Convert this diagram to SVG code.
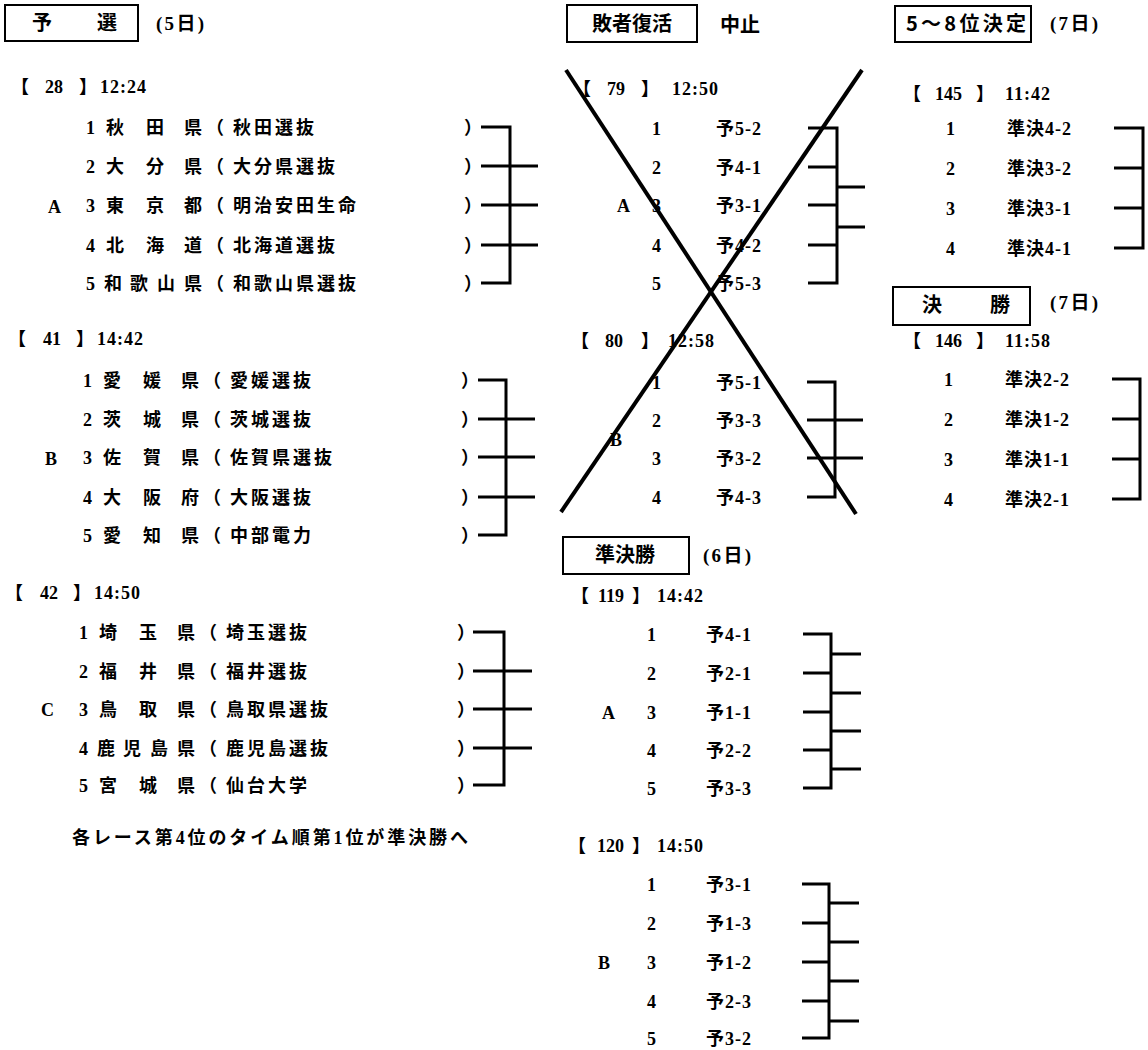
<svg xmlns="http://www.w3.org/2000/svg" width="1148" height="1050" viewBox="0 0 1148 1050">
<style>
.t{font-family:"Liberation Serif","Noto Sans CJK JP",serif;font-weight:bold;font-size:18px;fill:#000}
.j{font-family:"Noto Sans CJK JP",sans-serif;font-weight:bold;font-size:18px;fill:#000}
.h{font-family:"Noto Sans CJK JP",sans-serif;font-weight:bold;font-size:20px;fill:#000}
.d{font-family:"Liberation Serif","Noto Sans CJK JP",serif;font-weight:bold;font-size:19px;fill:#000}
.n{letter-spacing:3px}
.c{letter-spacing:1px}
.box{fill:none;stroke:#000;stroke-width:2}
.ln{stroke:#000;stroke-width:3;fill:none}
.x{stroke:#000;stroke-width:4;fill:none}
</style>
<rect width="1148" height="1050" fill="#fff"/>

<!-- Headers -->
<g id="hdr-yosen">
<rect class="box" x="5" y="5" width="133" height="36"/>
<text class="h" x="32 97" y="30">予選</text>
<text class="d" x="156" y="30" textLength="48" lengthAdjust="spacing">(5日)</text>
</g>
<g id="hdr-haisha">
<rect class="box" x="567" y="5" width="130" height="37"/>
<text class="h" x="632" y="31" text-anchor="middle">敗者復活</text>
<text class="h" x="720" y="32">中止</text>
</g>
<g id="hdr-58">
<rect class="box" x="895" y="6" width="136" height="36"/>
<text class="h" x="906" y="31" textLength="120" lengthAdjust="spacing">5～8位決定</text>
<text class="d" x="1050" y="30" textLength="48" lengthAdjust="spacing">(7日)</text>
</g>
<g id="hdr-junkessho">
<rect class="box" x="563" y="537" width="126" height="37"/>
<text class="h" x="625" y="562" text-anchor="middle">準決勝</text>
<text class="d" x="703" y="562" textLength="48" lengthAdjust="spacing">(6日)</text>
</g>
<g id="hdr-kessho">
<rect class="box" x="893" y="287" width="137" height="38"/>
<text class="h" x="922 990" y="312">決勝</text>
<text class="d" x="1050" y="309" textLength="48" lengthAdjust="spacing">(7日)</text>
</g>

<!-- Race 28 -->
<g id="race28">
<text class="t" x="11" y="93">【</text><text class="t" x="45" y="93">28</text><text class="t" x="79" y="93">】</text><text class="t c" x="100" y="93">12:24</text>
<text class="t" x="48" y="213" font-size="20">A</text>
<text class="t" x="86" y="134">1</text><text class="j" x="106 146 184" y="134">秋田県</text><text class="j" x="206" y="134">（</text><text class="j n" x="233" y="134">秋田選抜</text><text class="j" x="464" y="134">）</text>
<text class="t" x="86" y="173">2</text><text class="j" x="106 146 184" y="173">大分県</text><text class="j" x="206" y="173">（</text><text class="j n" x="233" y="173">大分県選抜</text><text class="j" x="464" y="173">）</text>
<text class="t" x="86" y="212">3</text><text class="j" x="106 146 184" y="212">東京都</text><text class="j" x="206" y="212">（</text><text class="j n" x="233" y="212">明治安田生命</text><text class="j" x="464" y="212">）</text>
<text class="t" x="86" y="252">4</text><text class="j" x="106 146 184" y="252">北海道</text><text class="j" x="206" y="252">（</text><text class="j n" x="233" y="252">北海道選抜</text><text class="j" x="464" y="252">）</text>
<text class="t" x="86" y="290">5</text><text class="j" x="104 130 157 184" y="290">和歌山県</text><text class="j" x="206" y="290">（</text><text class="j n" x="233" y="290">和歌山県選抜</text><text class="j" x="464" y="290">）</text>
</g>

<!-- Race 41 -->
<g id="race41">
<text class="t" x="8" y="345">【</text><text class="t" x="43" y="345">41</text><text class="t" x="76" y="345">】</text><text class="t c" x="97" y="345">14:42</text>
<text class="t" x="45" y="465" font-size="20">B</text>
<text class="t" x="83" y="387">1</text><text class="j" x="103 143 181" y="387">愛媛県</text><text class="j" x="203" y="387">（</text><text class="j n" x="230" y="387">愛媛選抜</text><text class="j" x="461" y="387">）</text>
<text class="t" x="83" y="426">2</text><text class="j" x="103 143 181" y="426">茨城県</text><text class="j" x="203" y="426">（</text><text class="j n" x="230" y="426">茨城選抜</text><text class="j" x="461" y="426">）</text>
<text class="t" x="83" y="464">3</text><text class="j" x="103 143 181" y="464">佐賀県</text><text class="j" x="203" y="464">（</text><text class="j n" x="230" y="464">佐賀県選抜</text><text class="j" x="461" y="464">）</text>
<text class="t" x="83" y="504">4</text><text class="j" x="103 143 181" y="504">大阪府</text><text class="j" x="203" y="504">（</text><text class="j n" x="230" y="504">大阪選抜</text><text class="j" x="461" y="504">）</text>
<text class="t" x="83" y="542">5</text><text class="j" x="103 143 181" y="542">愛知県</text><text class="j" x="203" y="542">（</text><text class="j n" x="230" y="542">中部電力</text><text class="j" x="461" y="542">）</text>
</g>

<!-- Race 42 -->
<g id="race42">
<text class="t" x="5" y="599">【</text><text class="t" x="40" y="599">42</text><text class="t" x="73" y="599">】</text><text class="t c" x="94" y="599">14:50</text>
<text class="t" x="41" y="716" font-size="20">C</text>
<text class="t" x="79" y="639">1</text><text class="j" x="99 139 177" y="639">埼玉県</text><text class="j" x="199" y="639">（</text><text class="j n" x="226" y="639">埼玉選抜</text><text class="j" x="457" y="639">）</text>
<text class="t" x="79" y="678">2</text><text class="j" x="99 139 177" y="678">福井県</text><text class="j" x="199" y="678">（</text><text class="j n" x="226" y="678">福井選抜</text><text class="j" x="457" y="678">）</text>
<text class="t" x="79" y="716">3</text><text class="j" x="99 139 177" y="716">鳥取県</text><text class="j" x="199" y="716">（</text><text class="j n" x="226" y="716">鳥取県選抜</text><text class="j" x="457" y="716">）</text>
<text class="t" x="79" y="755">4</text><text class="j" x="97 123 150 177" y="755">鹿児島県</text><text class="j" x="199" y="755">（</text><text class="j n" x="226" y="755">鹿児島選抜</text><text class="j" x="457" y="755">）</text>
<text class="t" x="79" y="792">5</text><text class="j" x="99 139 177" y="792">宮城県</text><text class="j" x="199" y="792">（</text><text class="j n" x="226" y="792">仙台大学</text><text class="j" x="457" y="792">）</text>
</g>

<g id="note">
<text class="t" x="72" y="844" textLength="396" lengthAdjust="spacing">各レース第4位のタイム順第1位が準決勝へ</text>
</g>

<!-- Race 79 -->
<g id="race79">
<text class="t" x="573" y="95">【</text><text class="t" x="607" y="95">79</text><text class="t" x="641" y="95">】</text><text class="t c" x="672" y="95">12:50</text>
<text class="t" x="617" y="212" font-size="20">A</text>
<text class="t" x="652" y="135">1</text><text class="t c" x="716" y="135">予5-2</text>
<text class="t" x="652" y="174">2</text><text class="t c" x="716" y="174">予4-1</text>
<text class="t" x="652" y="212">3</text><text class="t c" x="716" y="212">予3-1</text>
<text class="t" x="652" y="252">4</text><text class="t c" x="716" y="252">予4-2</text>
<text class="t" x="652" y="290">5</text><text class="t c" x="716" y="290">予5-3</text>
</g>

<!-- Race 80 -->
<g id="race80">
<text class="t" x="571" y="347">【</text><text class="t" x="605" y="347">80</text><text class="t" x="641" y="347">】</text><text class="t c" x="668" y="347">12:58</text>
<text class="t" x="610" y="446" font-size="20">B</text>
<text class="t" x="652" y="389">1</text><text class="t c" x="716" y="389">予5-1</text>
<text class="t" x="652" y="427">2</text><text class="t c" x="716" y="427">予3-3</text>
<text class="t" x="652" y="465">3</text><text class="t c" x="716" y="465">予3-2</text>
<text class="t" x="652" y="504">4</text><text class="t c" x="716" y="504">予4-3</text>
</g>

<!-- Race 119 -->
<g id="race119">
<text class="t" x="571" y="602">【</text><text class="t" x="598" y="602">119</text><text class="t" x="632" y="602">】</text><text class="t c" x="657" y="602">14:42</text>
<text class="t" x="602" y="719" font-size="20">A</text>
<text class="t" x="647" y="641">1</text><text class="t c" x="706" y="641">予4-1</text>
<text class="t" x="647" y="680">2</text><text class="t c" x="706" y="680">予2-1</text>
<text class="t" x="647" y="719">3</text><text class="t c" x="706" y="719">予1-1</text>
<text class="t" x="647" y="757">4</text><text class="t c" x="706" y="757">予2-2</text>
<text class="t" x="647" y="795">5</text><text class="t c" x="706" y="795">予3-3</text>
</g>

<!-- Race 120 -->
<g id="race120">
<text class="t" x="568" y="852">【</text><text class="t" x="597" y="852">120</text><text class="t" x="632" y="852">】</text><text class="t c" x="657" y="852">14:50</text>
<text class="t" x="598" y="969" font-size="20">B</text>
<text class="t" x="647" y="891">1</text><text class="t c" x="706" y="891">予3-1</text>
<text class="t" x="647" y="930">2</text><text class="t c" x="706" y="930">予1-3</text>
<text class="t" x="647" y="969">3</text><text class="t c" x="706" y="969">予1-2</text>
<text class="t" x="647" y="1008">4</text><text class="t c" x="706" y="1008">予2-3</text>
<text class="t" x="647" y="1045">5</text><text class="t c" x="706" y="1045">予3-2</text>
</g>

<!-- Race 145 -->
<g id="race145">
<text class="t" x="903" y="100">【</text><text class="t" x="935" y="100">145</text><text class="t" x="976" y="100">】</text><text class="t c" x="1005" y="100">11:42</text>
<text class="t" x="946" y="135">1</text><text class="t c" x="1007" y="135">準決4-2</text>
<text class="t" x="946" y="175">2</text><text class="t c" x="1007" y="175">準決3-2</text>
<text class="t" x="946" y="215">3</text><text class="t c" x="1007" y="215">準決3-1</text>
<text class="t" x="946" y="255">4</text><text class="t c" x="1007" y="255">準決4-1</text>
</g>

<!-- Race 146 -->
<g id="race146">
<text class="t" x="903" y="347">【</text><text class="t" x="935" y="347">146</text><text class="t" x="976" y="347">】</text><text class="t c" x="1005" y="347">11:58</text>
<text class="t" x="944" y="386">1</text><text class="t c" x="1005" y="386">準決2-2</text>
<text class="t" x="944" y="426">2</text><text class="t c" x="1005" y="426">準決1-2</text>
<text class="t" x="944" y="466">3</text><text class="t c" x="1005" y="466">準決1-1</text>
<text class="t" x="944" y="506">4</text><text class="t c" x="1005" y="506">準決2-1</text>
</g>

<!-- Connectors -->
<g id="connectors">
<path class="ln" d="M481 127H510V283H481M481 166H538M481 205H538M481 245H538"/>
<path class="ln" d="M478 380H506V535H478M478 419H535M478 457H535M478 497H535"/>
<path class="ln" d="M473 632H504V785H473M473 671H532M473 709H532M473 748H532"/>
<path class="ln" d="M808 128H837V283H808M808 167H837M808 205H837M808 245H837M837 187H865M837 227H865"/>
<path class="ln" d="M807 382H835V497H807M807 420H863M807 458H863"/>
<path class="ln" d="M803 634H831V788H803M803 673H831M803 712H831M803 750H831M831 654H861M831 693H861M831 731H861M831 769H861"/>
<path class="ln" d="M802 884H829V1038H802M802 923H829M802 962H829M802 1001H829M829 903H859M829 942H859M829 981H859M829 1021H859"/>
<path class="ln" d="M1114 128H1143V248H1114M1114 168H1143M1114 208H1143"/>
<path class="ln" d="M1112 379H1140V499H1112M1112 419H1140M1112 459H1140"/>
</g>

<g id="cancel-x">
<line class="x" x1="566" y1="70" x2="856" y2="514"/>
<line class="x" x1="862" y1="70" x2="561" y2="512"/>
</g>
</svg>
